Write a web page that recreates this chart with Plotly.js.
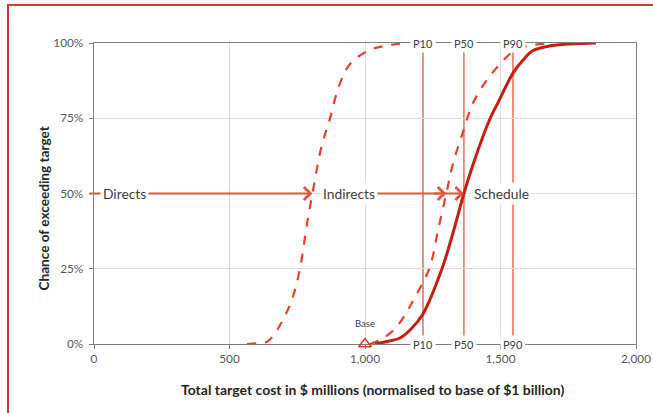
<!DOCTYPE html>
<html>
<head>
<meta charset="utf-8">
<script src="https://cdn.plot.ly/plotly-3.0.1.min.js"></script>
<style>
  html, body { margin: 0; padding: 0; background: #ffffff; overflow: hidden; }
  #chart { width: 653px; height: 413px; }
  #frame { position: absolute; left: 7px; top: 4px; width: 700px; height: 500px;
           border-left: 2px solid #d8392c; border-top: 2px solid #d8392c; pointer-events: none; }
</style>
</head>
<body>
<div id="chart"></div>
<div id="frame"></div>
<script>
// ---- data ----
const directsX   = [565, 600, 638, 668, 697, 730, 760, 786, 806, 838, 871, 905, 945, 1018, 1092, 1158];
const directsY   = [0, 0.2, 0.7, 3.6, 8, 14.6, 25, 40, 50, 65, 75, 86, 93, 97.7, 99.3, 100];

const indirectsX = [1018, 1060, 1110, 1150, 1175, 1237, 1270, 1300, 1325, 1360, 1398, 1452, 1498, 1544, 1600, 1697];
const indirectsY = [0, 1.5, 5, 10, 14, 25, 38, 50, 60, 70, 80, 88, 93, 97, 99, 100];

const scheduleX  = [1037, 1090, 1129, 1170, 1214, 1284, 1325, 1365, 1400, 1462, 1490, 1546, 1590, 1620, 1680, 1760, 1852];
const scheduleY  = [0, 1, 2, 5, 10, 25, 37, 50, 60, 75, 80, 90, 95, 97.5, 99, 99.7, 100];

const pLabels = ['P10', 'P50', 'P90'];
const pValues = [1214, 1365, 1546];

const stageLabels = ['Directs', 'Indirects', 'Schedule'];
const stageLabelX = [114, 941, 1502];
const arrowTails  = [-22, 1000, 1250];
const arrowTips   = [806, 1365, 1300];

const baseX = [1000];
const baseY = [0];
const baseLabel = 'Base';

const xTickVals = [0, 500, 1000, 1500, 2000];
const xTickText = ['0', '500', '1,000', '1,500', '2,000'];
const yTickVals = [0, 25, 50, 75, 100];
const yTickText = ['0%', '25%', '50%', '75%', '100%'];

const xTitle = 'Total target cost in $ millions (normalised to base of $1 billion)';
const yTitle = 'Chance of exceeding target';

// ---- styling ----
const FONT = 'Lato, "Open Sans", sans-serif';
const dashRed = '#e8402a';
const solidRed = '#c81e12';
const lineRed = '#e2553f';
const axisGray = '#7f7f7f';

const traces = [
  { x: directsX, y: directsY, mode: 'lines', line: { color: dashRed, width: 2.2, dash: 'dash', shape: 'spline' }, cliponaxis: false, hoverinfo: 'skip' },
  { x: indirectsX, y: indirectsY, mode: 'lines', line: { color: dashRed, width: 2.2, dash: 'dash', shape: 'spline' }, cliponaxis: false, hoverinfo: 'skip' },
  { x: scheduleX, y: scheduleY, mode: 'lines', line: { color: solidRed, width: 3, shape: 'spline' }, cliponaxis: false, hoverinfo: 'skip' },
  { x: baseX, y: baseY, mode: 'markers', marker: { symbol: 'triangle-up-open', size: 11, color: '#e03a2a', line: { width: 1.6, color: '#e03a2a' } }, cliponaxis: false, hoverinfo: 'skip' }
];

const shapes = pValues.map(v => ({
  type: 'line', xref: 'x', yref: 'y', x0: v, x1: v, y0: 0, y1: 100,
  line: { color: '#e8533f', width: 1.3 }, layer: 'below'
}));

const annotations = [];
// P labels top & bottom
pValues.forEach((v, i) => {
  [0, 100].forEach(yy => {
    annotations.push({ x: v, y: yy, xref: 'x', yref: 'y', text: pLabels[i], showarrow: false,
      font: { family: FONT, size: 11, color: '#404040' }, bgcolor: '#ffffff', borderpad: 2,
      xanchor: 'center', yanchor: 'middle' });
  });
});
// arrows at 50%
arrowTips.forEach((tip, i) => {
  annotations.push({ x: tip, y: 50, xref: 'x', yref: 'y', ax: arrowTails[i], ay: 50, axref: 'x', ayref: 'y',
    text: '', showarrow: true, arrowhead: 4, arrowsize: 1.4, arrowwidth: 1.8, arrowcolor: lineRed, standoff: 0 });
});
// stage labels
stageLabels.forEach((t, i) => {
  annotations.push({ x: stageLabelX[i], y: 50, xref: 'x', yref: 'y', text: t, showarrow: false,
    font: { family: FONT, size: 13.8, color: '#404040' }, bgcolor: '#ffffff', borderpad: 2,
    xanchor: 'center', yanchor: 'middle' });
});
// base label
annotations.push({ x: baseX[0], y: baseY[0], xref: 'x', yref: 'y', text: baseLabel, showarrow: false,
  yshift: 21, font: { family: FONT, size: 9.5, color: '#404040' }, xanchor: 'center', yanchor: 'middle' });
// axis titles
annotations.push({ x: 0.5, y: 0, xref: 'paper', yref: 'paper', yshift: -45, xshift: 7, text: '<b>' + xTitle + '</b>',
  showarrow: false, font: { family: FONT, size: 14, color: '#262626' }, xanchor: 'center', yanchor: 'middle' });
annotations.push({ x: 0, y: 0.5, xref: 'paper', yref: 'paper', xshift: -51, yshift: -15, text: '<b>' + yTitle + '</b>',
  textangle: -90, showarrow: false, font: { family: FONT, size: 13.6, color: '#262626' }, xanchor: 'center', yanchor: 'middle' });

const axisCommon = {
  showgrid: true, gridcolor: '#dcdcdc', gridwidth: 1, zeroline: false,
  showline: true, linecolor: axisGray, linewidth: 1.3, mirror: true,
  ticks: 'outside', ticklen: 4, tickcolor: axisGray, tickwidth: 1,
  tickfont: { family: FONT, size: 11.8, color: '#595959' }, layer: 'below traces', fixedrange: true
};

const layout = {
  width: 653, height: 413,
  margin: { l: 94, r: 17, t: 43, b: 69 },
  paper_bgcolor: '#ffffff', plot_bgcolor: '#ffffff',
  showlegend: false,
  xaxis: Object.assign({}, axisCommon, { range: [0, 2000], tickvals: xTickVals, ticktext: xTickText }),
  yaxis: Object.assign({}, axisCommon, { range: [0, 100], tickvals: yTickVals, ticktext: yTickText, ticklabelstandoff: 3 }),
  shapes: shapes,
  annotations: annotations
};

Plotly.newPlot('chart', traces, layout, { displayModeBar: false, staticPlot: true });
</script>
</body>
</html>
